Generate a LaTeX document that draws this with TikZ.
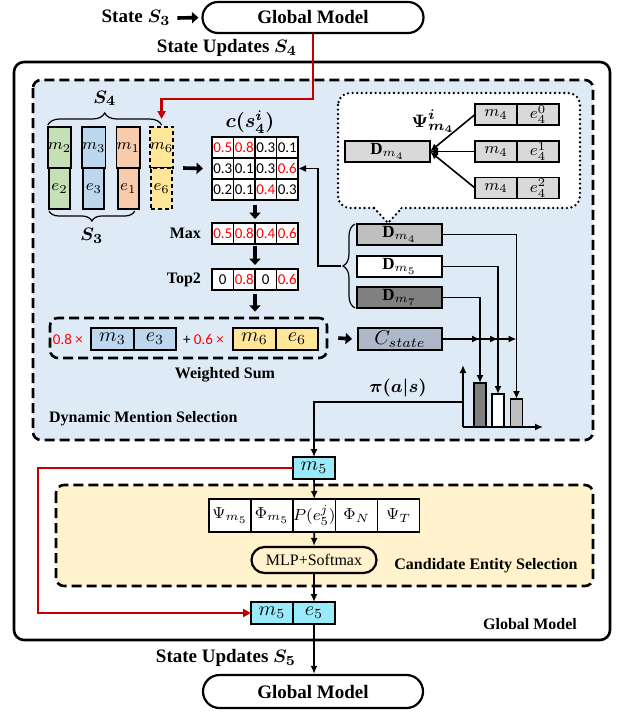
\documentclass[tikz,border=0pt]{standalone}
\usepackage{amsmath,amssymb}
\usepackage{fontspec}
\setmainfont{Liberation Serif}
\newfontfamily\calib{Carlito}
\usepackage{tikz}
\usetikzlibrary{
	positioning,
	arrows.meta,
	decorations.pathreplacing
}

\definecolor{bgblue}{RGB}{222,235,247}
\definecolor{bgyellow}{RGB}{255,242,204}
\definecolor{cgreen}{RGB}{197,224,180}
\definecolor{cblue}{RGB}{189,215,238}
\definecolor{corange}{RGB}{248,203,173}
\definecolor{cyellow}{RGB}{255,230,153}
\definecolor{cstate}{RGB}{173,185,202}
\definecolor{ccyan}{RGB}{153,235,250}
\definecolor{darkred}{RGB}{192,0,0}

\newcommand{\hl}[1]{\textcolor{red}{#1}}
\newcommand{\biglbl}{\fontsize{9.5pt}{11pt}\selectfont\bfseries}
\newcommand{\midlbl}{\fontsize{8pt}{9.5pt}\selectfont\bfseries}

\tikzset{
	box/.style={draw,line width=0.9pt,inner sep=0pt,outer sep=0pt,font=\fontsize{8.5pt}{10pt}\selectfont},
	colcell/.style={box,minimum width=10.5pt,minimum height=20.5pt},
	num/.style={box,fill=white,minimum width=10.75pt,minimum height=10.5pt,font=\calib\fontsize{7.5pt}{8pt}\selectfont},
	wcell/.style={box,minimum width=21.25pt,minimum height=11pt,font=\fontsize{10pt}{11pt}\selectfont},
	dbox/.style={box,minimum width=42.5pt,minimum height=10.5pt},
	bcell/.style={box,fill=black!15,minimum width=21pt,minimum height=10.5pt,font=\fontsize{8pt}{9pt}\selectfont},
	rcell/.style={box,fill=white,minimum width=21pt,minimum height=16.5pt,font=\fontsize{8pt}{9pt}\selectfont},
	pill/.style={draw,line width=1.1pt,rounded corners=#1,inner sep=0pt},
	region/.style={line width=1.3pt,dash pattern=on 5pt off 2.5pt,rounded corners=4pt},
	bubble/.style={line width=1.3pt,dash pattern=on 0pt off 2.3pt,line cap=round},
	brc/.style={decorate,decoration={brace,amplitude=#1},line width=0.6pt},
	conn/.style={line width=0.8pt,-{Latex[length=4pt,width=3.5pt]}},
	fatarrow/.style={line width=1.8pt,-{Triangle[length=3.2pt,width=5.5pt]}},
	redline/.style={line width=1.2pt,darkred,-{Triangle[length=4pt,width=4pt]}},
	bar/.style={draw,line width=0.8pt,minimum width=6pt,inner sep=0pt,outer sep=0pt,anchor=south}
}

\begin{document}
\begin{tikzpicture}[x=0.5pt,y=-0.5pt]
	\useasboundingbox (0,0) rectangle (616,712);

	% frames
	\draw[line width=1.3pt,rounded corners=5pt] (14,62) rectangle (610,640);
	\draw[region,fill=bgblue] (33,80) rectangle (593,440);
	\draw[region,fill=bgyellow] (56,485) rectangle (593,586);
	\node[font=\midlbl,anchor=west] at (42,419) {Dynamic Mention Selection};
	\node[font=\midlbl] at (486,566) {Candidate Entity Selection};
	\node[font=\midlbl] at (530,624) {Global Model};

	% top
	\node[pill=7.75pt,minimum width=110.5pt,minimum height=15.5pt,font=\biglbl] (gmtop) at (313,17.5) {Global Model};
	\node[font=\biglbl] (st3) at (136,18) {State $\boldsymbol{S_3}$};
	\draw[fatarrow,shorten >=1.5pt] (st3.east) -- (gmtop.west);
	\node[font=\biglbl] at (227,48) {State Updates $\boldsymbol{S_4}$};

	% states
	\node[colcell,fill=cgreen] (cm2) at (59.5,147.5) {$m_2$};
	\node[colcell,fill=cgreen,below=0pt of cm2] (ce2) {$e_2$};
	\node[colcell,fill=cblue,right=5.5pt of cm2] (cm3) {$m_3$};
	\node[colcell,fill=cblue,below=0pt of cm3] (ce3) {$e_3$};
	\node[colcell,fill=corange,right=5.5pt of cm3] (cm1) {$m_1$};
	\node[colcell,fill=corange,below=0pt of cm1] (ce1) {$e_1$};
	\node[colcell,fill=cyellow,dash pattern=on 2pt off 1.5pt,right=5pt of cm1] (cm6) {$m_6$};
	\node[colcell,fill=cyellow,dash pattern=on 2pt off 1.5pt,below=0pt of cm6] (ce6) {$e_6$};
	\draw[brc=6pt] ([yshift=1pt]cm2.north west) -- ([yshift=1pt]cm6.north)
		node[midway,above=6pt,font=\biglbl] {$\boldsymbol{S_4}$};
	\draw[brc=5pt] ([xshift=-2pt,yshift=-1pt]ce1.south east) -- ([yshift=-1pt]ce2.south west)
		node[midway,below=5pt,font=\biglbl] {$\boldsymbol{S_3}$};
	\coordinate (s4end) at ([yshift=4pt]cm6.north);
	\draw[redline] (gmtop.south) -- (313,99) -| (s4end);

	% scores
	\foreach \row/\va/\vb/\vc/\vd in {1/\hl{0.5}/\hl{0.8}/0.3/0.1,2/0.3/0.1/0.3/\hl{0.6},3/0.2/0.1/\hl{0.4}/0.3}{
		\node[num] (c\row1) at (222.75,{126.5+21*\row}) {\va};
		\node[num,right=0pt of c\row1] (c\row2) {\vb};
		\node[num,right=0pt of c\row2] (c\row3) {\vc};
		\node[num,right=0pt of c\row3] (c\row4) {\vd};
	}
	\node[font=\fontsize{10pt}{12pt}\selectfont] at (250,122) {$\boldsymbol{c(s_4^i)}$};
	\draw[fatarrow] ([xshift=5.5pt]ce6.north east) -- ([xshift=-4.5pt]c21.west);

	\node[num,below=11.5pt of c31] (x1) {\hl{0.5}};
	\node[num,right=0pt of x1] (x2) {\hl{0.8}};
	\node[num,right=0pt of x2] (x3) {\hl{0.4}};
	\node[num,right=0pt of x3] (x4) {\hl{0.6}};
	\node[font=\midlbl,left=2pt of x1] {Max};
	\node[num,below=12.5pt of x1] (t1) {0};
	\node[num,right=0pt of t1] (t2) {\hl{0.8}};
	\node[num,right=0pt of t2] (t3) {0};
	\node[num,right=0pt of t3] (t4) {\hl{0.6}};
	\node[font=\midlbl,left=2pt of t1] {Top2};
	\draw[fatarrow] ([yshift=-2.5pt]c32.south east) -- ([yshift=2pt]x2.north east);
	\draw[fatarrow] ([yshift=-1pt]x2.south east) -- ([yshift=2pt]t2.north east);

	% weighted sum
	\node[draw,region,minimum width=138.5pt,minimum height=20pt] (wsum) at (188.5,338) {};
	\draw[fatarrow] ([yshift=-2pt]t2.south east) -- ([yshift=2.5pt]t2.south east |- wsum.north);
	\node[wcell,fill=cblue] (wm3) at (112.5,339) {$m_3$};
	\node[wcell,fill=cblue,right=0pt of wm3] (we3) {$e_3$};
	\node[wcell,fill=cyellow] (wm6) at (254.5,339) {$m_6$};
	\node[wcell,fill=cyellow,right=0pt of wm6] (we6) {$e_6$};
	\node[font=\calib\fontsize{7.5pt}{8pt}\selectfont,inner sep=0pt,left=4pt of wm3] {\hl{0.8 ×}};
	\node[font=\calib\fontsize{7.5pt}{8pt}\selectfont,inner sep=0pt,left=4.5pt of wm6] {+ \hl{0.6 ×}};
	\node[font=\midlbl] at (225,375) {Weighted Sum};
	\node[box,fill=cstate,minimum width=42pt,minimum height=11pt,font=\fontsize{10pt}{11pt}\selectfont] (cs) at (400,339) {$C_{state}$};
	\draw[fatarrow] ([xshift=5pt]wsum.east) -- ([xshift=-3pt]cs.west);

	% bubble
	\draw[bubble,fill=white,rounded corners=6pt] (338,93) rectangle (580,208);
	\fill[white] (374,206) -- (388,223) -- (402,206) -- cycle;
	\draw[bubble] (374,208) -- (388,223) -- (402,208);
	\node[dbox,fill=black!15] (bd) at (387.5,151.5) {$\mathbf{D}_{m_4}$};
	\foreach \k/\yy in {0/114.5,1/151.5,2/188}{
		\node[bcell] (bm\k) at (496,\yy) {$m_4$};
		\node[bcell,right=0pt of bm\k] (be\k) {$e^{\k}_4$};
		\draw[conn] (bm\k.west) -- (bd.east);
	}
	\node[font=\fontsize{9.5pt}{11pt}\selectfont] at (433,121) {$\boldsymbol{\Psi^{i}_{m_4}}$};

	% mentions
	\node[dbox,fill=black!25] (d4) at (399.5,234.5) {$\mathbf{D}_{m_4}$};
	\node[dbox,fill=white] (d5) at (399.5,266.5) {$\mathbf{D}_{m_5}$};
	\node[dbox,fill=black!50] (d7) at (399.5,297.5) {$\mathbf{D}_{m_7}$};
	\draw[brc=6pt] ([xshift=-1pt]d7.south west) -- ([xshift=-1pt]d4.north west)
		coordinate[midway,xshift=-7pt] (dtip);
	\draw[conn] (dtip) -- ([xshift=-11.5pt]dtip) |- (c24.east);

	% policy
	\coordinate (org) at (463,427);
	\coordinate (yax) at (463,365);
	\coordinate (xax) at (543,427);
	\node[bar,fill=black!50,minimum height=22pt] (b1) at (480,427) {};
	\node[bar,fill=white,minimum height=16.5pt] (b2) at (498,427) {};
	\node[bar,fill=black!25,minimum height=14pt] (b3) at (516.5,427) {};
	\draw[conn] (org) -- (yax);
	\draw[conn] (org) -- (xax);
	\draw[conn] (d4.east) -| (b3.north);
	\draw[conn] (d5.east) -| (b2.north);
	\draw[conn] (d7.east) -| (b1.north);
	\foreach \bb in {b1,b2,b3}
		\draw[conn] (cs.east) -- (cs.east -| \bb.north);
	\node[font=\fontsize{9.5pt}{11pt}\selectfont] at (398,388) {$\boldsymbol{\pi(a|s)}$};
	\coordinate (pist) at (463,402);

	% candidate entity selection
	\node[box,fill=ccyan,minimum width=21pt,minimum height=11pt,font=\fontsize{10pt}{11pt}\selectfont] (m5) at (314,468) {$m_5$};
	\draw[conn] (pist) -| (m5.north);
	\node[rcell] (r1) at (230,515.5) {$\Psi_{m_5}$};
	\node[rcell,right=0pt of r1] (r2) {$\Phi_{m_5}$};
	\node[rcell,right=0pt of r2] (r3) {$P(e_5^j)$};
	\node[rcell,right=0pt of r3] (r4) {$\Phi_N$};
	\node[rcell,right=0pt of r4] (r5) {$\Psi_T$};
	\node[pill=6.5pt,minimum width=62.5pt,minimum height=13pt,font=\fontsize{8pt}{9.5pt}\selectfont\mdseries] (mlp) at (314,560) {MLP+Softmax};
	\node[box,fill=ccyan,minimum width=21pt,minimum height=11pt,font=\fontsize{10pt}{11pt}\selectfont] (ee5) at (314,613) {$e_5$};
	\node[box,fill=ccyan,minimum width=21pt,minimum height=11pt,font=\fontsize{10pt}{11pt}\selectfont,left=0pt of ee5] (mm5) {$m_5$};
	\draw[conn] (m5.south) -- (r3.north);
	\draw[conn] (r3.south) -- (mlp.north);
	\draw[conn] (mlp.south) -- (ee5.north);
	\draw[redline] (m5.west) -- (38,468) |- (mm5.west);

	% bottom
	\node[pill=8.25pt,minimum width=110pt,minimum height=16.5pt,font=\biglbl] (gmbot) at (313,691.5) {Global Model};
	\draw[conn] (ee5.south) -- (ee5.south |- gmbot.north);
	\node[font=\biglbl] at (226,658) {State Updates $\boldsymbol{S_5}$};
\end{tikzpicture}
\end{document}
